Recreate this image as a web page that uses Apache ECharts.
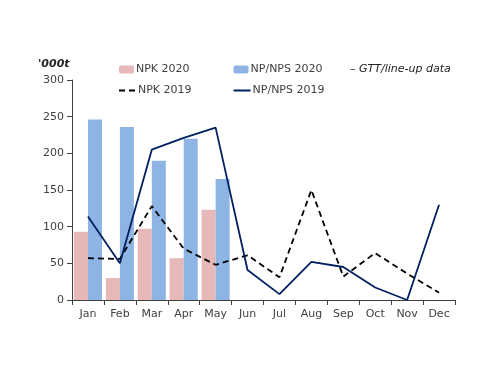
<!DOCTYPE html>
<html><head><meta charset="utf-8">
<script src="https://cdn.jsdelivr.net/npm/echarts@6/dist/echarts.min.js"></script>
<style>html,body{margin:0;padding:0;background:#fff}#c{width:500px;height:386px}</style>
</head><body><div id="c"></div>
<script>
const months = ['Jan','Feb','Mar','Apr','May','Jun','Jul','Aug','Sep','Oct','Nov','Dec'];
const npk2020 = [93, 30, 97, 57, 123, null, null, null, null, null, null, null];
const nps2020 = [246, 236, 190, 220, 165, null, null, null, null, null, null, null];
const npk2019 = [57, 56, 128, 70, 48, 61, 31, 150, 32, 64, 36, 10];
const nps2019 = [114, 50, 205, 221, 235, 41, 8, 52, 45, 17, 0, 130];
const yTicks = [0, 300, 50];

const font = 'DejaVu Sans';
const chart = echarts.init(document.getElementById('c'), null, {renderer:'canvas'});
chart.setOption({
  animation: false,
  textStyle: {fontFamily: font},
  grid: {left: 72, right: 45, top: 80, bottom: 86},
  legend: [
    {data: ['NPK 2020','NP/NPS 2020'], left: 119, top: 64, padding: 0, itemWidth: 15, itemHeight: 8, itemGap: 44,
     textStyle: {fontFamily: font, fontSize: 11, color: '#404040', padding: [0,0,0,-3]}},
    {data: ['NPK 2019','NP/NPS 2019'], left: 118, top: 85, padding: 0, itemWidth: 17, itemHeight: 8, itemGap: 41,
     itemStyle: {opacity: 0},
     textStyle: {fontFamily: font, fontSize: 11, color: '#404040', padding: [0,0,0,-3]}}
  ],
  graphic: [
    {type: 'text', left: 38, top: 59, style: {text: "'000t", font: 'italic bold 11px ' + font, fill: '#222'}},
    {type: 'text', left: 350, top: 64, style: {text: '\u2013 GTT/line-up data', font: 'italic 11px ' + font, fill: '#222'}}
  ],
  xAxis: {
    type: 'category', data: months,
    axisLine: {lineStyle: {color: '#404040', width: 1}},
    axisTick: {show: true, alignWithLabel: false, length: 5, lineStyle: {color: '#404040'}},
    axisLabel: {color: '#404040', fontSize: 11, margin: 9}
  },
  yAxis: {
    type: 'value', min: yTicks[0], max: yTicks[1], interval: yTicks[2],
    splitLine: {show: false},
    axisLine: {show: true, lineStyle: {color: '#404040', width: 1}},
    axisTick: {show: true, length: 5, lineStyle: {color: '#404040'}},
    axisLabel: {color: '#404040', fontSize: 11, margin: 8}
  },
  series: [
    {name: 'NPK 2020', type: 'bar', data: npk2020, barGap: '0%', barCategoryGap: '12%', itemStyle: {color: '#E6B9B8'}},
    {name: 'NP/NPS 2020', type: 'bar', data: nps2020, barGap: '0%', barCategoryGap: '12%', itemStyle: {color: '#8DB4E2'}},
    {name: 'NPK 2019', type: 'line', data: npk2019, symbol: 'none', lineStyle: {color: '#000', width: 1.8, type: [6,4]}, itemStyle: {color: '#000'}},
    {name: 'NP/NPS 2019', type: 'line', data: nps2019, symbol: 'none', lineStyle: {color: '#002060', width: 1.8}, itemStyle: {color: '#002060'}}
  ]
});
</script></body></html>
